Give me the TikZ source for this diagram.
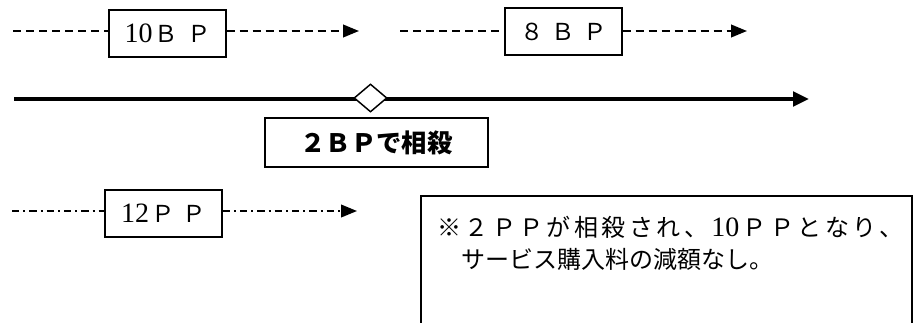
\documentclass[tikz,border=0pt]{standalone}
\usepackage{fontspec}
\setmainfont{Liberation Serif}
\newfontfamily\cjk{Noto Sans CJK JP}
\usetikzlibrary{arrows.meta,shapes.geometric}
\newcommand\lat[1]{{\rmfamily\fontsize{21pt}{21pt}\selectfont #1}}
\newcommand\lblfont{\fontsize{17.5pt}{21pt}\selectfont\cjk}
\newcommand\notefont{\fontsize{18pt}{24pt}\selectfont\cjk}
\newcommand\boldfont{\fontsize{19pt}{22pt}\selectfont\cjk\bfseries}
\begin{document}
\begin{tikzpicture}[x=0.75pt,y=-0.75pt,
  lblbox/.style={draw,line width=1.1pt,minimum width=87.75pt,minimum height=35.25pt,inner sep=0pt},
  dshline/.style={line width=1.5pt,dash pattern=on 6pt off 3.75pt},
  dshdot/.style={line width=1.4pt,dash pattern=on 5.5pt off 3pt on 1.5pt off 3pt},
  tip/.style={-{Triangle[length=12pt,width=9.5pt]}},
  mainline/.style={line width=2.5pt,-{Triangle[length=12pt,width=11pt]}},
  notetext/.style={anchor=base west,inner sep=0pt}
]
\useasboundingbox (0,0) rectangle (915,322);
\clip (0,0) rectangle (915,322);

% row 1
\node[lblbox] (b10) at (167.5,33.5) {\lblfont\lat{10}\hspace{1.5pt}Ｂ\hspace{7pt}Ｐ};
\node[lblbox] (b8) at (563.5,31.5) {\lblfont ８\hspace{6pt}Ｂ\hspace{6pt}Ｐ};
\coordinate (a0) at (13,31);
\coordinate (a1) at (359,31);
\coordinate (c0) at (400,31);
\coordinate (c1) at (747,31);
\draw[dshline] (a0) -- (b10.west |- a0);
\draw[dshline,tip] (b10.east |- a1) -- (a1);
\draw[dshline] (c0) -- (b8.west |- c0);
\draw[dshline,tip] (b8.east |- c1) -- (c1);

% main line
\coordinate (m0) at (14,99);
\coordinate (m1) at (809,99);
\draw[mainline] (m0) -- (m1);
\node[diamond,draw,fill=white,line width=1.1pt,inner sep=0pt,minimum width=24.75pt,minimum height=21pt] (dia) at (370.5,98) {};

\node[draw,line width=1.5pt,minimum width=167.25pt,minimum height=36.75pt,inner sep=0pt,font=\boldfont] (bp) at (376.5,142.5) {２ＢＰで相殺};

% row 3
\node[lblbox] (b12) at (163.5,213.5) {\lblfont\lat{12}\hspace{1.5pt}Ｐ\hspace{6pt}Ｐ};
\coordinate (d0) at (12,211);
\coordinate (d1) at (357,211);
\draw[dshdot] (d0) -- (b12.west |- d0);
\draw[dshdot,tip] (b12.east |- d1) -- (d1);

% note box
\coordinate (f0) at (421,340);
\coordinate (f1) at (912,196);
\draw[line width=1.2pt] (f0) |- (f1) -- (912,340);
\node[notetext] (n1) at (437,236) {\notefont\hbox to 350pt{※\hfill ２\hfill Ｐ\hfill Ｐ\hfill が\hfill 相\hfill 殺\hfill さ\hfill れ\hfill 、\hfill\lat{10}\hfill Ｐ\hfill Ｐ\hfill と\hfill な\hfill り\hfill 、}};
\node[notetext] (n2) at (437,268) {\notefont 　サービス購入料の減額なし。};
\end{tikzpicture}
\end{document}
